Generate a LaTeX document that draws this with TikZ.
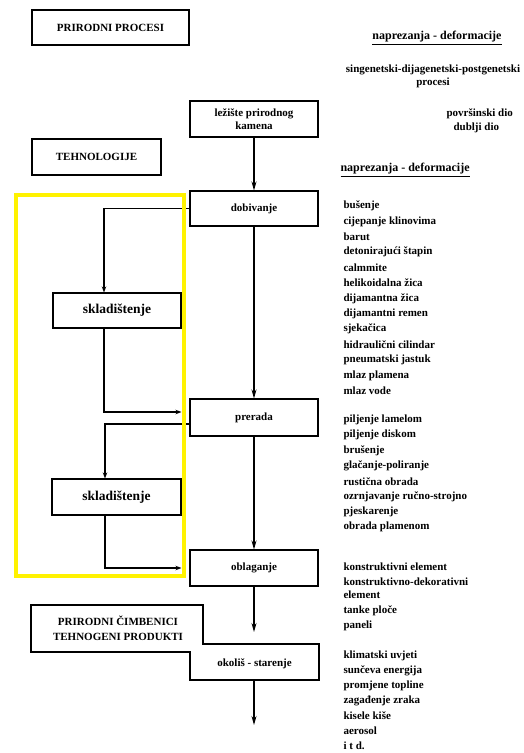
\documentclass[tikz,border=0pt]{standalone}
\usepackage{fontspec}
\setmainfont{Liberation Serif}
\usetikzlibrary{arrows.meta}

\begin{document}
\begin{tikzpicture}[x=1pt,y=-1pt,line width=1.1pt,
  every node/.style={text centered,font=\fontsize{11}{13}\selectfont\bfseries},
  box/.style={draw,minimum width=128pt,minimum height=35pt,inner sep=0pt,align=center},
  sklbox/.style={font=\fontsize{13.5}{15}\selectfont\bfseries},
  headline/.style={font=\fontsize{12}{14}\selectfont\bfseries},
  item/.style={anchor=west,inner sep=0pt},
  >={Stealth[length=9pt,width=5pt]},
  storeline/.style={-{Stealth[length=6pt,width=4.5pt]}}]

\useasboundingbox (0,0) rectangle (523,753);

% lijevi stupac
\node [box,minimum width=157pt] (prirodni) at (110.5,27.5) {PRIRODNI PROCESI};
\node [box,minimum width=129pt,minimum height=36pt] (tehno) at (96.5,157) {TEHNOLOGIJE};

% glavni tok
\node [box,minimum height=36pt] (leziste) at (254,119) {ležište prirodnog\\kamena};
\node [box] (dobivanje) at (254,208.5) {dobivanje};
\node [box,minimum height=37pt] (prerada) at (254,417.5) {prerada};
\node [box,minimum height=36pt] (oblaganje) at (254,568) {oblaganje};

\node [box,sklbox] (skl1) at (117,310.5) {skladištenje};
\node [box,sklbox,minimum width=129pt,minimum height=36pt] (skl2) at (116.5,497) {skladištenje};

% okolis - starenje
\path [draw] (31,605) -- (203,605) -- (203,644) -- (319,644) -- (319,680)
  -- (190,680) -- (190,652) -- (31,652) -- cycle;
\node [align=center,font=\fontsize{11}{15}\selectfont\bfseries] (cimb) at (118,628.5) {PRIRODNI ČIMBENICI\\TEHNOGENI PRODUKTI};
\node (okolis) at (254.5,664) {okoliš - starenje};
\coordinate (okolgore) at (254,632);
\coordinate (okoldolje) at (254,680);
\coordinate (kraj) at (254,725);

\draw[->] (leziste) -- (dobivanje);
\draw[->] (dobivanje) -- (prerada);
\draw[->] (prerada) -- (oblaganje);
\draw[->] (oblaganje.south) -- (okolgore);
\draw[->] (okoldolje) -- (kraj);

% skladistenje
\draw[storeline] (dobivanje.west) -| ([xshift=-13pt]skl1.north);
\draw[storeline,shorten >=8pt] ([xshift=-13pt]skl1.south) |- ([yshift=5.5pt]prerada.west);
\draw[storeline] ([yshift=-6.5pt]prerada.west) -| ([xshift=-11.5pt]skl2.north);
\draw[storeline,shorten >=8pt] ([xshift=-11.5pt]skl2.south) |- (oblaganje.west);

% desni stupac
\node [headline] (nap1) at (437,38) {\underline{naprezanja - deformacije}};
\node [align=center] (geneza) at (433,76.5) {singenetski-dijagenetski-postgenetski\\procesi};
\node [item] (povrs) at (446,114) {površinski dio};
\node [item] (dublji) at (453,128) {dublji dio};
\node [item,headline] (nap2) at (340,170) {\underline{naprezanja - deformacije}};

\foreach \t [count=\i from 0] in {bušenje,cijepanje klinovima,barut,detonirajući štapin,calmmite,
  helikoidalna žica,dijamantna žica,dijamantni remen,sjekačica,hidraulični cilindar,
  pneumatski jastuk,mlaz plamena,mlaz vode}
  \node [item] (dob\i) at (343,206+15.4*\i) {\t};

\foreach \t [count=\i from 0] in {piljenje lamelom,piljenje diskom,brušenje,glačanje-poliranje,
  rustična obrada,ozrnjavanje ručno-strojno,pjeskarenje,obrada plamenom}
  \node [item] (pre\i) at (343,420+15.3*\i) {\t};

\node [item] (obl0) at (343,567) {konstruktivni element};
\node [item] (obl1) at (343,582) {konstruktivno-dekorativni};
\node [item] (obl2) at (343,595) {element};
\node [item] (obl3) at (343,611) {tanke ploče};
\node [item] (obl4) at (343,626) {paneli};

\foreach \t [count=\i from 0] in {klimatski uvjeti,sunčeva energija,promjene topline,
  zagađenje zraka,kisele kiše,aerosol,i t d.}
  \node [item] (oko\i) at (343,656+15*\i) {\t};

% oznaka
\path [draw=yellow,line width=4pt] (15.5,195) rectangle (183.5,576);

\end{tikzpicture}
\end{document}
